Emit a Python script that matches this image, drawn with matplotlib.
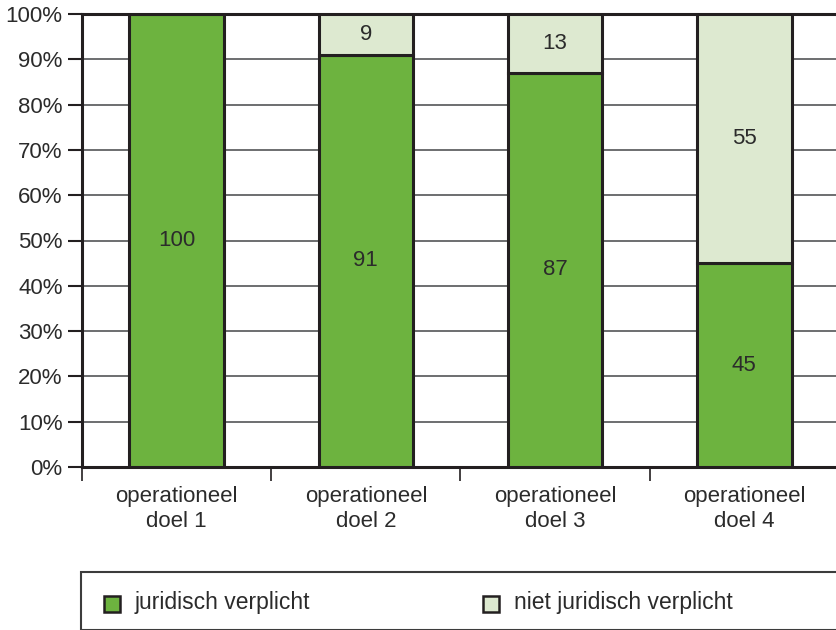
import matplotlib
matplotlib.use("Agg")
from matplotlib import pyplot as plt
from matplotlib.patches import Rectangle

categories = ["operationeel\ndoel 1", "operationeel\ndoel 2", "operationeel\ndoel 3", "operationeel\ndoel 4"]
juridisch = [100, 91, 87, 45]
niet_juridisch = [0, 9, 13, 55]
series_names = ["juridisch verplicht", "niet juridisch verplicht"]
y_ticks = list(range(0, 101, 10))

green = "#6db33f"
light = "#dde9d0"
edge = "#231f20"
txt = "#2b2b2b"
fs = 16

plt.rcParams['font.family'] = ['Liberation Sans', 'DejaVu Sans']

fig = plt.figure(figsize=(8.36, 6.3), dpi=100)
ax = fig.add_axes([82 / 836, 1 - 467 / 630, 757 / 836, 453 / 630])

x = range(len(categories))
ax.bar(x, juridisch, width=0.5, color=green, edgecolor=edge, linewidth=2.2, zorder=3)
ax.bar(x, niet_juridisch, width=0.5, bottom=juridisch, color=light, edgecolor=edge,
       linewidth=2.2, zorder=3)

# labels in the middle of each segment
for i in x:
    ax.text(i, juridisch[i] / 2, str(juridisch[i]), ha="center", va="center",
            fontsize=fs, color=txt, zorder=4)
    if niet_juridisch[i] > 0:
        ax.text(i, juridisch[i] + niet_juridisch[i] / 2, str(niet_juridisch[i]),
                ha="center", va="center", fontsize=fs, color=txt, zorder=4)

ax.set_xlim(-0.5, len(categories) - 0.5)
ax.set_ylim(0, 100)
ax.set_yticks(y_ticks)
ax.set_yticklabels(["{}%".format(t) for t in y_ticks], fontsize=fs, color=txt)
ax.tick_params(axis="y", length=10, width=1.5, color=edge, pad=4)

ax.set_xticks(list(x))
ax.set_xticklabels(categories, fontsize=fs, color=txt, linespacing=1.2)
ax.set_xticks([i - 0.5 for i in range(len(categories) + 1)], minor=True)
ax.tick_params(axis="x", which="major", length=0, pad=14)
ax.tick_params(axis="x", which="minor", length=10, width=1.2, color=edge)

ax.grid(axis="y", color="#6d6e70", linewidth=1.4, zorder=0)
ax.set_axisbelow(True)
for side in ["left", "top", "bottom"]:
    ax.spines[side].set_color(edge)
    ax.spines[side].set_linewidth(2.2)
ax.spines["right"].set_visible(False)

# legend box
fig.patches.append(Rectangle((81 / 836, 0), 1, (630 - 572) / 630, transform=fig.transFigure,
                             fill=False, edgecolor="#3c3c3c", linewidth=1.5))
leg_y = 1 - 603 / 630
for xs, col, name in [(104, green, series_names[0]), (483, light, series_names[1])]:
    fig.patches.append(Rectangle((xs / 836, leg_y - 8.5 / 630), 16 / 836, 16 / 630,
                                 transform=fig.transFigure, facecolor=col,
                                 edgecolor=edge, linewidth=1.8))
    fig.text((xs + 31) / 836, leg_y, name, fontsize=16.5, va="center", color=txt)

plt.savefig("out.png", dpi=100)
